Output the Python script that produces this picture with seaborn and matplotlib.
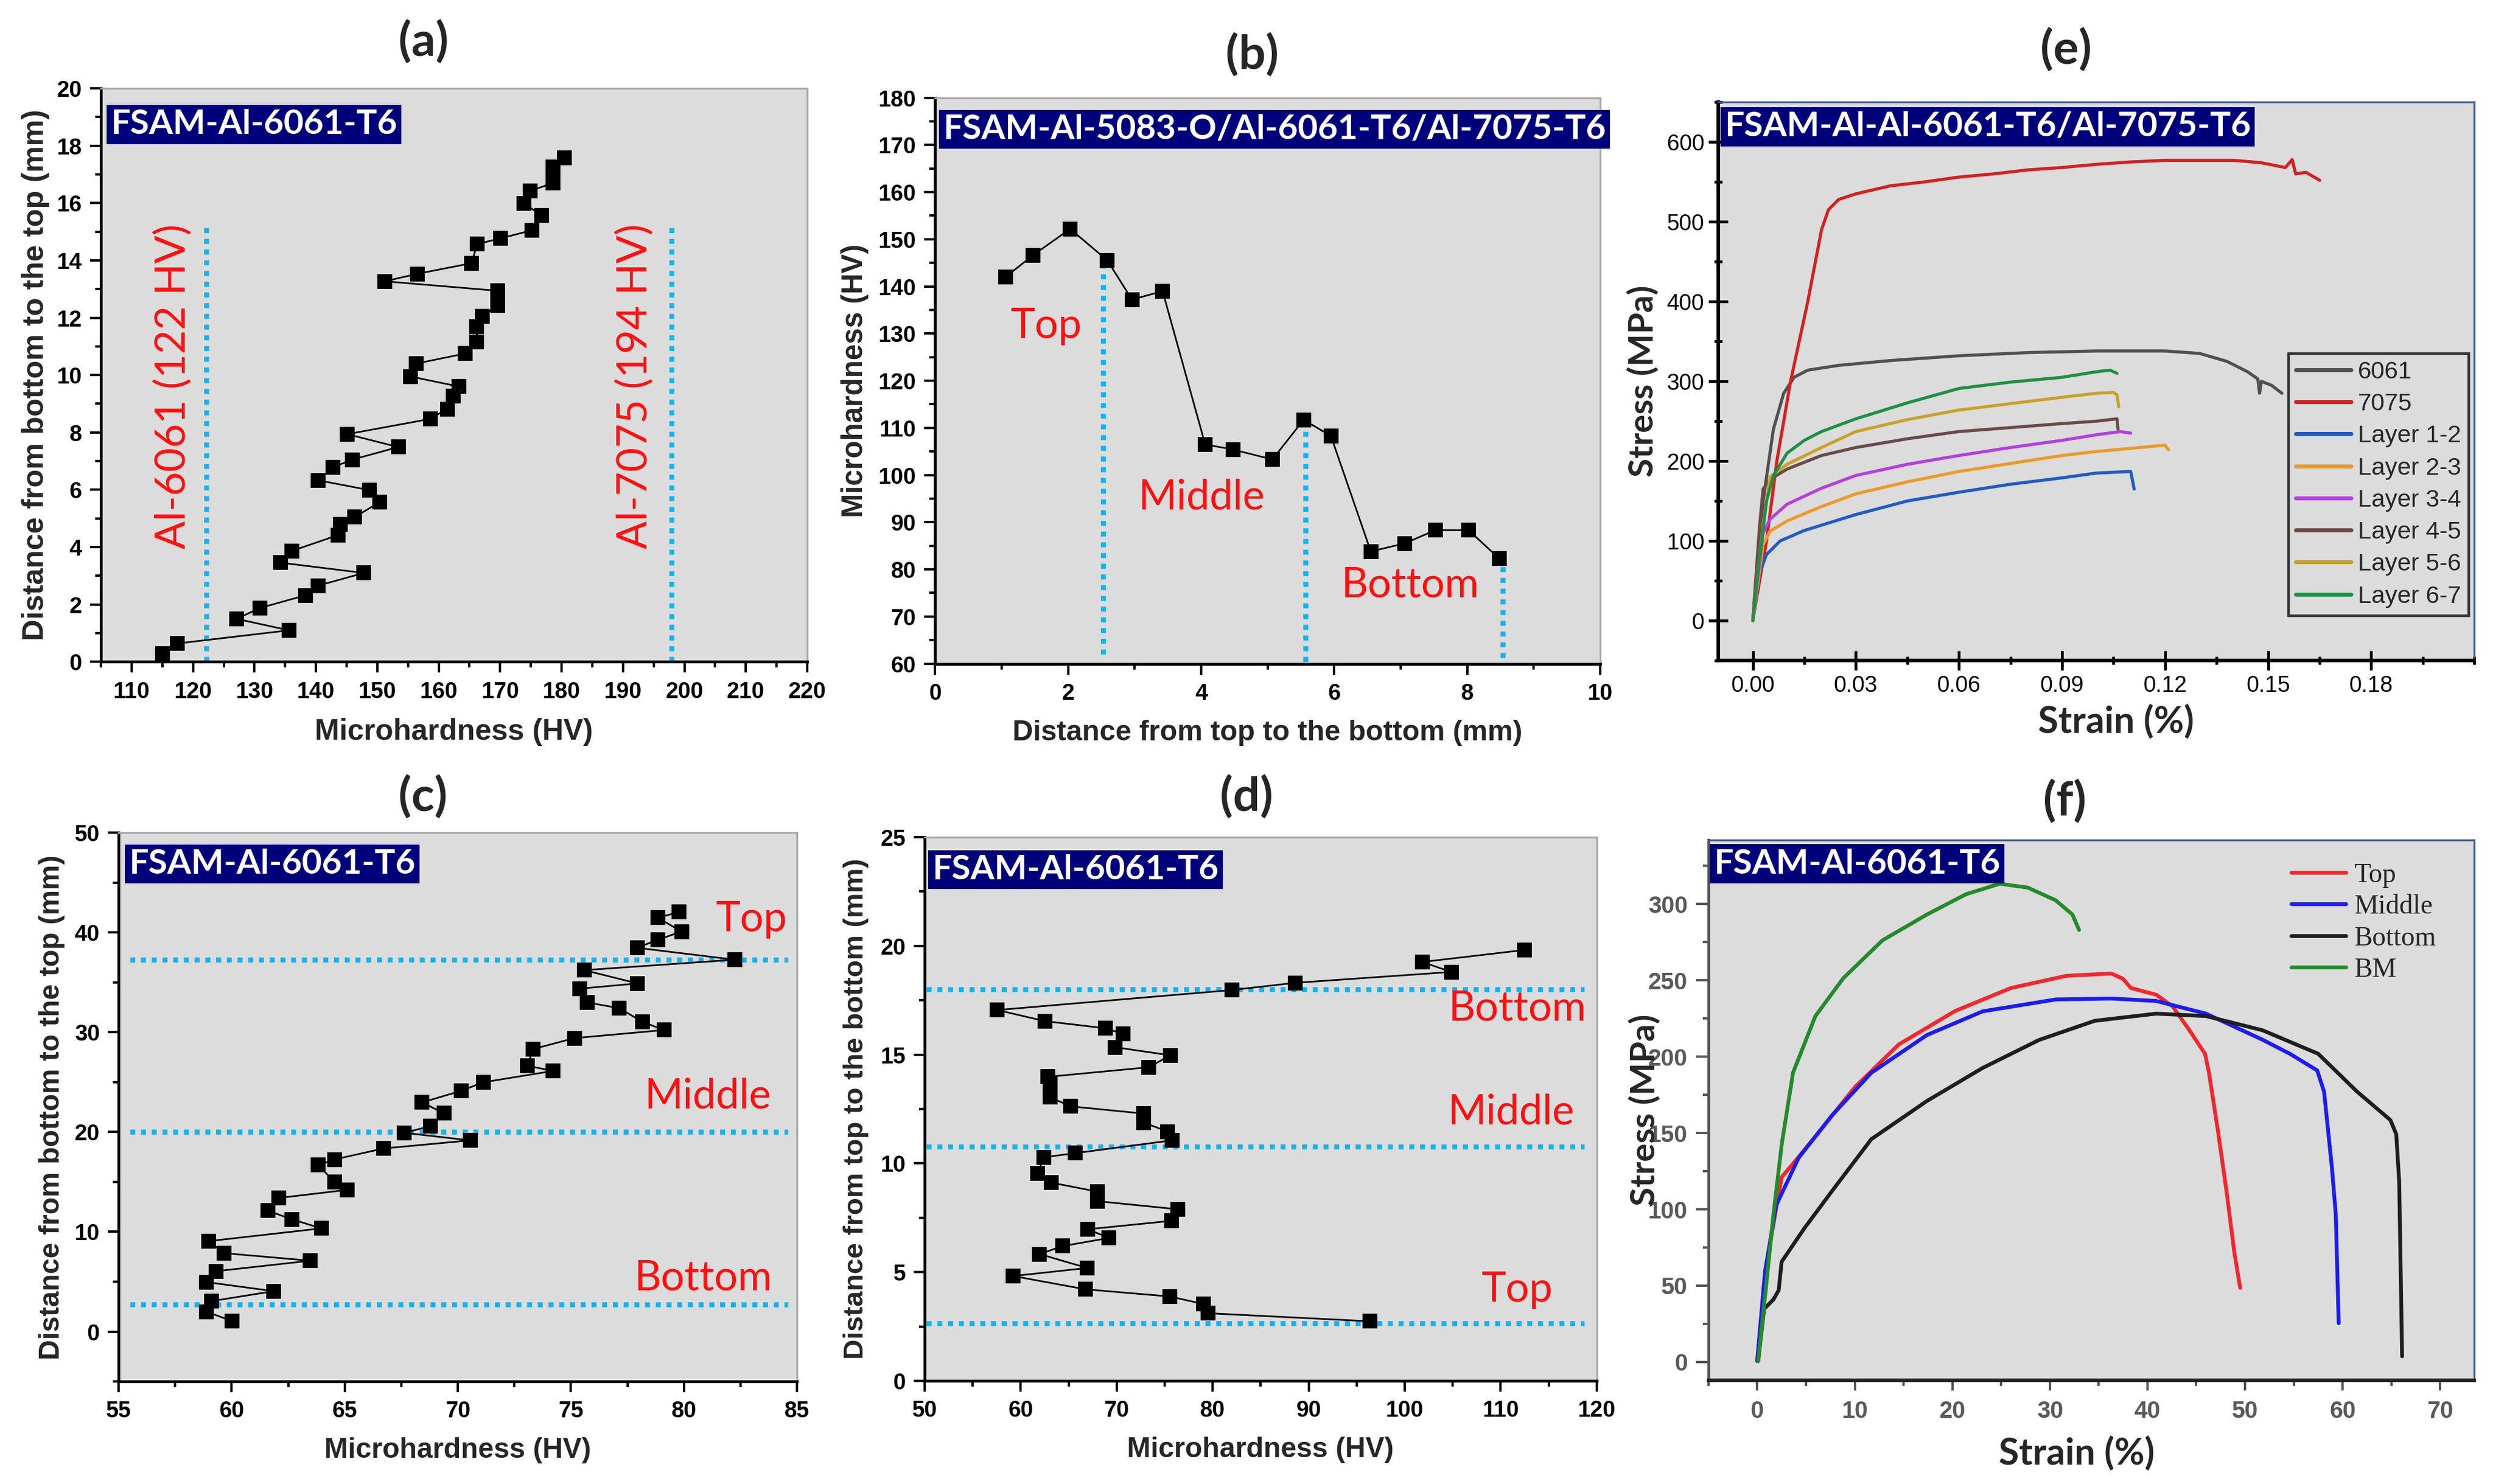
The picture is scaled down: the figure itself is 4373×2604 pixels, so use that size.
import numpy as np
import pandas as pd
import matplotlib
matplotlib.use("Agg")
import matplotlib.pyplot as plt
from matplotlib.ticker import MultipleLocator
import seaborn as sns

# -----------------------------
# Data
# -----------------------------

# (a) hardness profile, bottom -> top
a_hv = [115.0, 117.4, 135.6, 127.1, 130.9, 138.3, 140.4, 147.8, 134.2, 136.1,
        143.6, 144.0, 146.3, 150.4, 148.7, 140.4, 142.8, 145.9, 153.4, 145.1,
        158.6, 161.4, 162.4, 163.3, 155.4, 156.3, 164.3, 166.2, 166.2, 167.1,
        169.6, 169.6, 151.2, 156.5, 165.3, 166.3, 170.1, 175.2, 176.7, 173.9,
        174.9, 178.6, 178.6, 178.6, 180.5]
a_dist = [0.28, 0.64, 1.10, 1.50, 1.88, 2.32, 2.66, 3.10, 3.46, 3.87,
          4.42, 4.79, 5.05, 5.57, 5.99, 6.33, 6.79, 7.05, 7.49, 7.94,
          8.47, 8.82, 9.27, 9.60, 9.95, 10.40, 10.75, 11.16, 11.70, 12.05,
          12.42, 12.94, 13.27, 13.53, 13.90, 14.57, 14.77, 15.05, 15.57, 15.99,
          16.42, 16.70, 17.11, 17.25, 17.58]
a_ref_hv = [122.2, 197.9]
a_ref_top = 15.3
a_ref_labels = ["Al-6061 (122 HV)", "Al-7075 (194 HV)"]

# (b) hardness, top -> bottom
b_dist = [1.06, 1.47, 2.03, 2.59, 2.96, 3.42, 4.06, 4.48, 5.07, 5.54,
          5.95, 6.55, 7.06, 7.52, 8.02, 8.48]
b_hv = [142.0, 146.6, 152.2, 145.5, 137.2, 139.0, 106.5, 105.4, 103.3, 111.7,
        108.3, 83.8, 85.5, 88.3, 88.3, 82.3]
b_ref_x = [2.53, 5.57, 8.53]
b_ref_lo = [62.0, 60.4, 61.3]
b_ref_hi = [144.2, 111.9, 81.0]

# (c) hardness, bottom -> top
c_hv = [60.02, 58.87, 59.11, 61.86, 58.87, 59.30, 63.48, 59.66, 58.97, 63.96,
        62.67, 61.60, 62.08, 65.11, 64.55, 63.82, 64.55, 66.71, 70.54, 67.64,
        68.78, 69.38, 68.42, 70.14, 71.12, 74.21, 73.08, 73.32, 75.16, 79.13,
        78.17, 77.14, 75.73, 75.40, 77.95, 75.59, 82.25, 77.93, 78.84, 79.90,
        78.84, 79.78]
c_dist = [1.05, 2.00, 3.05, 4.05, 4.96, 6.05, 7.10, 7.86, 9.06, 10.34,
          11.25, 12.11, 13.39, 14.20, 15.01, 16.68, 17.25, 18.35, 19.16, 19.92,
          20.59, 21.88, 22.97, 24.12, 24.98, 26.12, 26.64, 28.31, 29.41, 30.22,
          31.03, 32.41, 32.98, 34.37, 34.89, 36.22, 37.27, 38.46, 39.27, 40.09,
          41.47, 42.04]
c_ref_y = [37.27, 20.02, 2.72]

# (d) hardness, top -> bottom
d_hv = [96.35, 79.52, 79.05, 75.53, 66.73, 59.22, 66.93, 61.96, 64.40, 69.21,
        66.99, 75.74, 76.36, 68.02, 68.02, 63.21, 61.76, 62.43, 65.69, 75.79,
        75.32, 72.79, 72.79, 65.23, 63.05, 63.05, 63.05, 62.84, 73.36, 75.58,
        69.83, 70.66, 68.85, 62.53, 57.56, 82.00, 88.58, 104.84, 101.84, 112.45]
d_dist = [2.74, 3.11, 3.53, 3.88, 4.21, 4.82, 5.19, 5.83, 6.20, 6.57,
          6.97, 7.36, 7.89, 8.26, 8.70, 9.11, 9.55, 10.28, 10.47, 11.06,
          11.46, 11.88, 12.29, 12.62, 13.04, 13.39, 13.65, 13.98, 14.42, 14.97,
          15.34, 15.95, 16.21, 16.54, 17.05, 17.97, 18.30, 18.80, 19.26, 19.81]
d_ref_y = [17.99, 10.76, 2.65]

# (e) stress-strain curves
e_6061_strain = [0, 0.003, 0.006, 0.009, 0.012, 0.016, 0.025, 0.04, 0.06, 0.08, 0.10,
                 0.12, 0.13, 0.138, 0.144, 0.147, 0.1475, 0.148, 0.151, 0.154]
e_6061_stress = [0, 150, 240, 285, 305, 314, 320, 326, 332, 336, 338,
                 338, 335, 325, 312, 303, 285, 300, 295, 285]
e_7075_strain = [0, 0.004, 0.007, 0.011, 0.016, 0.020, 0.022, 0.025, 0.03, 0.04, 0.05,
                 0.06, 0.07, 0.08, 0.09, 0.10, 0.11, 0.12, 0.13, 0.14, 0.148,
                 0.155, 0.157, 0.158, 0.161, 0.165]
e_7075_stress = [0, 100, 200, 300, 400, 490, 515, 528, 535, 545, 550,
                 556, 560, 565, 568, 572, 575, 577, 577, 577, 574,
                 568, 578, 560, 562, 552]
e_l12_strain = [0, 0.002, 0.004, 0.008, 0.015, 0.03, 0.045, 0.06, 0.075, 0.09, 0.10, 0.11, 0.111]
e_l12_stress = [0, 60, 83, 100, 113, 133, 150, 161, 171, 179, 185, 187, 165]
e_l23_strain = [0, 0.003, 0.005, 0.01, 0.02, 0.03, 0.045, 0.06, 0.075, 0.09, 0.10, 0.11, 0.12, 0.121]
e_l23_stress = [0, 95, 112, 125, 143, 159, 174, 187, 197, 207, 212, 216, 220, 214]
e_l34_strain = [0, 0.003, 0.005, 0.01, 0.02, 0.03, 0.045, 0.06, 0.075, 0.09, 0.10, 0.107, 0.11]
e_l34_stress = [0, 110, 127, 146, 166, 182, 196, 207, 217, 226, 233, 237, 235]
e_l45_strain = [0, 0.002, 0.003, 0.005, 0.01, 0.02, 0.03, 0.045, 0.06, 0.075, 0.09, 0.10, 0.106, 0.1063]
e_l45_stress = [0, 120, 165, 177, 190, 207, 217, 228, 237, 242, 247, 250, 253, 240]
e_l56_strain = [0, 0.003, 0.005, 0.01, 0.02, 0.03, 0.045, 0.06, 0.075, 0.09, 0.10, 0.105, 0.106, 0.1065]
e_l56_stress = [0, 120, 180, 196, 217, 237, 252, 264, 272, 280, 285, 286, 283, 268]
e_l67_strain = [0, 0.002, 0.004, 0.006, 0.01, 0.015, 0.02, 0.03, 0.045, 0.06, 0.075, 0.09, 0.10, 0.104, 0.106]
e_l67_stress = [0, 80, 150, 182, 210, 226, 237, 253, 273, 291, 299, 305, 312, 314, 310]
e_labels = ["6061", "7075", "Layer 1-2", "Layer 2-3", "Layer 3-4",
            "Layer 4-5", "Layer 5-6", "Layer 6-7"]
e_colors = ["#505050", "#d42020", "#1f5bc6", "#eb9a2a", "#b23fe0",
            "#6b4a48", "#c9a12a", "#1f8f45"]

# (f) stress-strain curves
f_top_strain = [0, 0.7, 1.4, 2.5, 4.2, 6.5, 10.0, 14.5, 20.3, 26.0, 31.7, 36.3, 37.5,
                38.3, 40.9, 42.6, 44.3, 45.9, 46.3, 47.2, 48.1, 48.9, 49.5]
f_top_stress = [0.6, 50, 81, 121, 134, 152, 180, 208, 230, 245, 253, 254.5, 251,
                245, 240.6, 232.8, 217.3, 201.9, 189.5, 152.3, 112, 71.8, 48.6]
f_mid_strain = [0, 0.8, 1.95, 4.24, 7.67, 11.7, 17.4, 23.1, 30.6, 36.3, 40.9, 46.0,
                51.8, 54.6, 57.4, 58.1, 58.9, 59.3, 59.6]
f_mid_stress = [0.6, 59.4, 102.8, 133.7, 161.6, 189.5, 214.2, 229.7, 237.5, 238.1, 236.5,
                228.2, 211.1, 201.9, 191, 177, 127.6, 96.6, 25.4]
f_bot_strain = [0.1, 0.7, 1.66, 2.2, 2.5, 4.8, 7.67, 11.7, 17.4, 23.1, 28.9, 34.6, 40.9,
                46.0, 51.8, 57.5, 61.5, 64.9, 65.5, 65.8, 66.1]
f_bot_stress = [0.6, 34.7, 40.9, 47, 65.6, 87.3, 112, 146, 171, 192.6, 211, 223.5, 228.2,
                226.6, 217.3, 201.9, 177, 158.5, 149.2, 118.3, 3.7]
f_bm_strain = [0.1, 0.92, 1.66, 2.52, 3.67, 5.96, 8.82, 12.83, 17.41, 21.42, 24.86,
               27.72, 30.58, 32.3, 32.99]
f_bm_stress = [0.6, 50.2, 96.6, 143, 189.5, 226.6, 251.4, 276.2, 293.2, 306.5, 313.3,
               310.8, 302.5, 293.2, 283]
f_labels = ["Top", "Middle", "Bottom", "BM"]
f_colors = ["#f0282d", "#1c1cf0", "#1e1e1e", "#238b2a"]

# -----------------------------
# Styling helpers
# -----------------------------
sns.set_theme(style="ticks")
plt.rcParams["font.family"] = ["Liberation Sans", "DejaVu Sans"]
plt.rcParams["axes.facecolor"] = "#dcdcdc"
plt.rcParams["figure.facecolor"] = "white"

ARIAL = ["Liberation Sans", "DejaVu Sans"]
CAL = ["Lato", "DejaVu Sans"]
NAVY = "#00007a"
CYAN = "#12b4ee"
RED = "#ff1010"


def frame(ax, edge="#a8a8a8", axis_col="black"):
    for s in ["left", "bottom"]:
        ax.spines[s].set_color(axis_col)
        ax.spines[s].set_linewidth(1.2)
    for s in ["top", "right"]:
        ax.spines[s].set_color(edge)
        ax.spines[s].set_linewidth(0.8)
    ax.tick_params(which="both", direction="out", top=False, right=False,
                   width=1.0, color=axis_col)
    ax.tick_params(which="major", length=4.5, pad=3.5)
    ax.tick_params(which="minor", length=2.3)
    ax.grid(False)


def set_ticks(ax, xt, yt, xminor, yminor, fmt_x="{:g}", fmt_y="{:g}",
              size=9.5, weight="bold", color="black"):
    kw = dict(fontsize=size, fontweight=weight, fontfamily=ARIAL, color=color)
    ax.set_xticks(xt, labels=[fmt_x.format(v) for v in xt], **kw)
    ax.set_yticks(yt, labels=[fmt_y.format(v) for v in yt], **kw)
    ax.xaxis.set_minor_locator(MultipleLocator(xminor))
    ax.yaxis.set_minor_locator(MultipleLocator(yminor))


def tag(ax, text, x, y, size=14.5):
    ax.text(x, y, text, transform=ax.transAxes, ha="left", va="center",
            fontsize=size, fontweight="bold", fontfamily=CAL, color="white",
            bbox=dict(boxstyle="square,pad=0.12", fc=NAVY, ec="none"), zorder=5)


def red(ax, text, x, y, size=17.5, rot=0):
    ax.text(x, y, text, ha="center", va="center", rotation=rot,
            fontsize=size, fontfamily=CAL, color=RED, zorder=4)


def points(ax, x, y):
    sns.lineplot(x=x, y=y, sort=False, estimator=None, ax=ax, color="black",
                 lw=0.7, marker="s", markersize=5.6, markeredgecolor="black",
                 markeredgewidth=0.5, zorder=3)


def labels(ax, xl, yl, size=12.2, ysize=None, xpad=6.5, ypad=4):
    ax.set_xlabel(xl, fontsize=size, fontweight="bold", labelpad=xpad)
    ax.set_ylabel(yl, fontsize=ysize or size, fontweight="bold", labelpad=ypad)


W, H = 4373, 2604
fig = plt.figure(figsize=(W / 300, H / 300), dpi=300)

ax_a = fig.add_axes([0.0405, 0.554, 0.2833, 0.3865])
ax_b = fig.add_axes([0.3751, 0.5528, 0.2668, 0.3813])
ax_e = fig.add_axes([0.6893, 0.5549, 0.3032, 0.3763])
ax_c = fig.add_axes([0.0476, 0.0691, 0.2721, 0.3698])
ax_d = fig.add_axes([0.3709, 0.0695, 0.2696, 0.3664])
ax_f = fig.add_axes([0.6853, 0.0699, 0.3072, 0.3641])

dots = dict(color=CYAN, lw=2.1, ls=(0, (1, 1.15)), zorder=2)

# ---- (a) ----
points(ax_a, a_hv, a_dist)
for xv in a_ref_hv:
    ax_a.plot([xv, xv], [0, a_ref_top], **dots)
red(ax_a, a_ref_labels[0], 116.8, 9.6, rot=90)
red(ax_a, a_ref_labels[1], 192.0, 9.6, rot=90)
ax_a.set_xlim(105, 220)
ax_a.set_ylim(0, 20)
set_ticks(ax_a, list(range(110, 221, 10)), list(range(0, 21, 2)), 5, 1)
frame(ax_a)
labels(ax_a, "Microhardness (HV)", "Distance from bottom to the top (mm)",
       size=12.4, ysize=12.5, ypad=3)
tag(ax_a, "FSAM-Al-6061-T6", 0.014, 0.937)

# ---- (b) ----
points(ax_b, b_dist, b_hv)
for xv, lo, hi in zip(b_ref_x, b_ref_lo, b_ref_hi):
    ax_b.plot([xv, xv], [lo, hi], **dots)
red(ax_b, "Top", 1.67, 131.5)
red(ax_b, "Middle", 4.0, 95.2)
red(ax_b, "Bottom", 7.14, 76.6)
ax_b.set_xlim(0, 10)
ax_b.set_ylim(60, 180)
set_ticks(ax_b, list(range(0, 11, 2)), list(range(60, 181, 10)), 1, 5)
frame(ax_b)
labels(ax_b, "Distance from top to the bottom (mm)", "Microhardness (HV)",
       size=12, ysize=12.2)
tag(ax_b, "FSAM-Al-5083-O/Al-6061-T6/Al-7075-T6", 0.012, 0.944)

# ---- (c) ----
points(ax_c, c_hv, c_dist)
for yv in c_ref_y:
    ax_c.plot([55.5, 84.6], [yv, yv], **dots)
red(ax_c, "Top", 83.0, 41.3)
red(ax_c, "Middle", 81.05, 23.55)
red(ax_c, "Bottom", 80.86, 5.34)
ax_c.set_xlim(55, 85)
ax_c.set_ylim(-5, 50)
set_ticks(ax_c, list(range(55, 86, 5)), list(range(0, 51, 10)), 2.5, 5)
frame(ax_c)
labels(ax_c, "Microhardness (HV)", "Distance from bottom to the top (mm)",
       size=11.9, ysize=11.9)
tag(ax_c, "FSAM-Al-6061-T6", 0.015, 0.943)

# ---- (d) ----
points(ax_d, d_hv, d_dist)
for yv in d_ref_y:
    ax_d.plot([50.2, 118.7], [yv, yv], **dots)
red(ax_d, "Bottom", 111.7, 17.1)
red(ax_d, "Middle", 111.05, 12.34)
red(ax_d, "Top", 111.7, 4.18)
ax_d.set_xlim(50, 120)
ax_d.set_ylim(0, 25)
set_ticks(ax_d, list(range(50, 121, 10)), list(range(0, 26, 5)), 5, 2.5)
frame(ax_d)
labels(ax_d, "Microhardness (HV)", "Distance from top to the bottom (mm)",
       size=11.9, ysize=11.8, ypad=5)
tag(ax_d, "FSAM-Al-6061-T6", 0.011, 0.94)

# ---- (e) ----
e_strain = [e_6061_strain, e_7075_strain, e_l12_strain, e_l23_strain,
            e_l34_strain, e_l45_strain, e_l56_strain, e_l67_strain]
e_stress = [e_6061_stress, e_7075_stress, e_l12_stress, e_l23_stress,
            e_l34_stress, e_l45_stress, e_l56_stress, e_l67_stress]
df_e = pd.concat([pd.DataFrame({"strain": s, "stress": t, "curve": n})
                  for s, t, n in zip(e_strain, e_stress, e_labels)],
                 ignore_index=True)
sns.lineplot(data=df_e, x="strain", y="stress", hue="curve", hue_order=e_labels,
             palette=e_colors, sort=False, estimator=None, lw=1.3, ax=ax_e)
ax_e.set_xlim(-0.01, 0.21)
ax_e.set_ylim(-50, 650)
set_ticks(ax_e, [0, 0.03, 0.06, 0.09, 0.12, 0.15, 0.18], list(range(0, 601, 100)),
          0.015, 50, fmt_x="{:.2f}", size=9.5, weight="normal")
frame(ax_e, edge="#3b5b8f")
ax_e.spines["left"].set_linewidth(1.5)
ax_e.spines["bottom"].set_linewidth(1.5)
ax_e.tick_params(which="major", direction="inout", length=8, width=1.2, pad=2)
ax_e.tick_params(which="minor", direction="inout", length=3.5, width=1.2)
ax_e.set_xlabel("Strain (%)", fontsize=15.5, fontweight="bold", fontfamily=CAL)
ax_e.xaxis.set_label_coords(0.526, -0.078)
ax_e.set_ylabel("Stress (MPa)", fontsize=14.5, fontweight="bold", fontfamily=CAL, labelpad=3)
h, l = ax_e.get_legend_handles_labels()
leg = ax_e.legend(h, l, loc="lower right", bbox_to_anchor=(0.992, 0.081),
                  frameon=True, fancybox=False, edgecolor="#333333",
                  facecolor="#dcdcdc", framealpha=1, handlelength=2.25,
                  labelspacing=0.38, borderpad=0.3, handletextpad=0.28,
                  borderaxespad=0,
                  prop=dict(family="Liberation Sans", size=10.3))
leg.get_frame().set_linewidth(1.1)
for line in leg.get_lines():
    line.set_linewidth(1.7)
tag(ax_e, "FSAM-Al-Al-6061-T6/Al-7075-T6", 0.008, 0.956)

# ---- (f) ----
f_strain = [f_top_strain, f_mid_strain, f_bot_strain, f_bm_strain]
f_stress = [f_top_stress, f_mid_stress, f_bot_stress, f_bm_stress]
df_f = pd.concat([pd.DataFrame({"strain": s, "stress": t, "curve": n})
                  for s, t, n in zip(f_strain, f_stress, f_labels)],
                 ignore_index=True)
sns.lineplot(data=df_f, x="strain", y="stress", hue="curve", hue_order=f_labels,
             palette=f_colors, sort=False, estimator=None, lw=1.6, ax=ax_f)
ax_f.set_xlim(-5, 73.5)
ax_f.set_ylim(-12, 342)
set_ticks(ax_f, list(range(0, 71, 10)), list(range(0, 301, 50)), 5, 25,
          size=10, weight="bold", color="#5a5a5a")
frame(ax_f, edge="#3b5b8f", axis_col="#555555")
ax_f.spines["bottom"].set_color("#222222")
ax_f.spines["bottom"].set_linewidth(1.5)
ax_f.tick_params(axis="y", which="major", length=5.2, pad=3.6)
ax_f.tick_params(axis="x", which="major", length=4.4, pad=4)
ax_f.set_xlabel("Strain (%)", fontsize=15.5, fontweight="bold", fontfamily=CAL)
ax_f.xaxis.set_label_coords(0.481, -0.102)
ax_f.set_ylabel("Stress (MPa)", fontsize=14.5, fontweight="bold", fontfamily=CAL)
ax_f.yaxis.set_label_coords(-0.062, 0.5)
h, l = ax_f.get_legend_handles_labels()
leg = ax_f.legend(h, l, loc="upper left", bbox_to_anchor=(0.761, 0.958),
                  frameon=False, handlelength=2.0, labelspacing=0.24,
                  handletextpad=0.3, borderpad=0, borderaxespad=0,
                  prop=dict(family="Liberation Serif", size=11.5))
for line in leg.get_lines():
    line.set_linewidth(1.6)
tag(ax_f, "FSAM-Al-6061-T6", 0.007, 0.956)

# ---- panel titles ----
for txt, x, y in [("(a)", 0.170, 0.972), ("(b)", 0.5024, 0.963), ("(e)", 0.8287, 0.9666),
                  ("(c)", 0.1697, 0.4631), ("(d)", 0.4999, 0.4631), ("(f)", 0.8282, 0.46)]:
    fig.text(x, y, txt, ha="center", va="center", fontsize=20,
             fontweight="bold", fontfamily=CAL)

fig.savefig("out.png", dpi=300)
